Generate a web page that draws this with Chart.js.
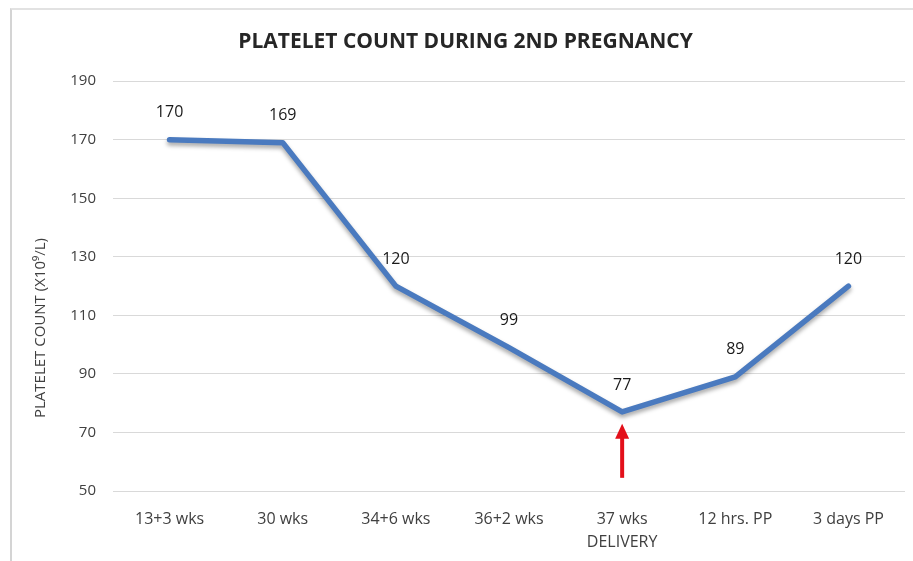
<!DOCTYPE html>
<html>
<head>
<meta charset="utf-8">
<script src="https://cdn.jsdelivr.net/npm/chart.js@4.4.0/dist/chart.umd.min.js"></script>
<style>
  html, body { margin: 0; padding: 0; background: #fff; }
  #wrap { position: relative; width: 913px; height: 561px; overflow: hidden; }
  #frame { position: absolute; left: 10px; top: 8px; width: 960px; height: 600px;
           border-left: 2px solid #d4d4d4; border-top: 2px solid #e2e2e2; }
  canvas { position: absolute; left: 0; top: 0; }
</style>
</head>
<body>
<div id="wrap">
  <div id="frame"></div>
  <canvas id="chart" width="913" height="561"></canvas>
</div>
<script>
// --- DATOS ---
const categorias = ["13+3 wks", "30 wks", "34+6 wks", "36+2 wks", ["37 wks", "DELIVERY"], "12 hrs. PP", "3 days PP"];
const plaquetas = [170, 169, 120, 99, 77, 89, 120];
const ticksY = [50, 70, 90, 110, 130, 150, 170, 190];
const tituloY = "PLATELET COUNT (X10⁹/L)";
// flecha roja: categoría y valores de cola / punta
const flechaIdx = 4;
const flechaDesde = 54.5;
const flechaHasta = 73;

const fuente = "'Open Sans', 'Noto Sans', sans-serif";

// etiquetas de valor encima de cada punto
const etiquetas = {
  id: "etiquetas",
  afterDatasetsDraw(chart) {
    const { ctx } = chart;
    const meta = chart.getDatasetMeta(0);
    ctx.save();
    ctx.font = "16px " + fuente;
    ctx.fillStyle = "#1a1a1a";
    ctx.textAlign = "center";
    ctx.textBaseline = "middle";
    meta.data.forEach((p, i) => {
      ctx.fillText(plaquetas[i], p.x, p.y - 27);
    });
    ctx.restore();
  }
};

// título del eje Y (un poco por debajo del centro, como en el original)
const tituloEjeY = {
  id: "tituloEjeY",
  afterDraw(chart) {
    const { ctx } = chart;
    ctx.save();
    ctx.translate(41, 328);
    ctx.rotate(-Math.PI / 2);
    ctx.font = "15px " + fuente;
    ctx.fillStyle = "#404040";
    ctx.textAlign = "center";
    ctx.textBaseline = "middle";
    ctx.fillText(tituloY, 0, 0);
    ctx.restore();
  }
};

// sombra de la línea
const sombra = {
  id: "sombra",
  beforeDatasetDraw(chart) {
    const ctx = chart.ctx;
    ctx.save();
    ctx.shadowColor = "rgba(0,0,0,0.35)";
    ctx.shadowBlur = 4;
    ctx.shadowOffsetY = 3;
  },
  afterDatasetDraw(chart) {
    chart.ctx.restore();
  }
};

// flecha roja bajo el parto
const flecha = {
  id: "flecha",
  afterDatasetsDraw(chart) {
    const { ctx, scales } = chart;
    const x = scales.x.getPixelForValue(flechaIdx);
    const y0 = scales.y.getPixelForValue(flechaDesde);
    const y1 = scales.y.getPixelForValue(flechaHasta);
    ctx.save();
    ctx.strokeStyle = "#e3101a";
    ctx.fillStyle = "#e3101a";
    ctx.lineWidth = 4;
    ctx.beginPath();
    ctx.moveTo(x, y0);
    ctx.lineTo(x, y1 + 12);
    ctx.stroke();
    ctx.beginPath();
    ctx.moveTo(x, y1);
    ctx.lineTo(x - 7, y1 + 15);
    ctx.lineTo(x + 7, y1 + 15);
    ctx.closePath();
    ctx.fill();
    ctx.restore();
  }
};

new Chart(document.getElementById("chart"), {
  type: "line",
  data: {
    labels: categorias,
    datasets: [{
      data: plaquetas,
      borderColor: "#4a7abf",
      borderWidth: 5.5,
      pointRadius: 0,
      tension: 0,
      borderJoinStyle: "round",
      borderCapStyle: "round"
    }]
  },
  options: {
    responsive: false,
    animation: false,
    layout: { padding: { left: 26, right: 8, top: 0, bottom: 0 } },
    plugins: {
      legend: { display: false },
      tooltip: { enabled: false },
      title: {
        display: true,
        text: "PLATELET COUNT DURING 2ND PREGNANCY",
        color: "#262626",
        font: { family: fuente, size: 21, weight: "bold" },
        padding: { top: 29, bottom: 27 }
      }
    },
    scales: {
      x: {
        offset: true,
        grid: { display: false, drawTicks: false },
        border: { display: false },
        ticks: {
          color: "#404040",
          font: { family: fuente, size: 16, lineHeight: 1.45 },
          padding: 17,
          maxRotation: 0,
          autoSkip: false
        },
        afterFit(s) { s.height = 70; }
      },
      y: {
        min: 50,
        max: 190,
        afterBuildTicks(s) { s.ticks = ticksY.map(v => ({ value: v })); },
        grid: { color: "#d9d9d9", lineWidth: 1, drawTicks: false },
        border: { display: false },
        ticks: {
          color: "#404040",
          font: { family: fuente, size: 15 },
          padding: 17
        },
        afterFit(s) { s.width = 87; }
      }
    }
  },
  plugins: [sombra, etiquetas, flecha, tituloEjeY]
});
</script>
</body>
</html>
